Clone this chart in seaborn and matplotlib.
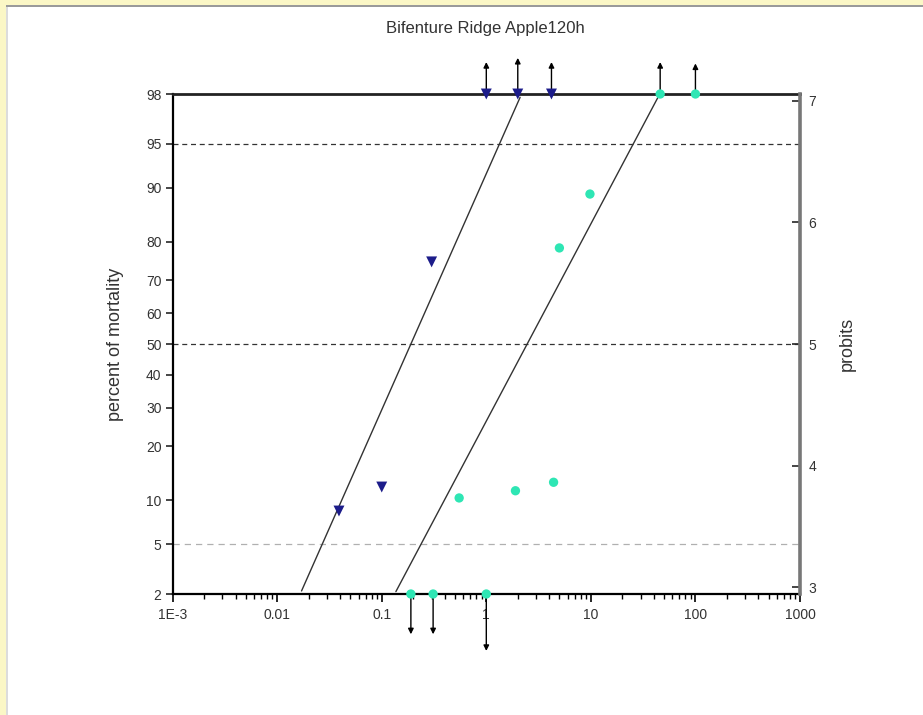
import numpy as np
import pandas as pd
import matplotlib
matplotlib.use("Agg")
import matplotlib.pyplot as plt
from matplotlib.patches import Rectangle
import seaborn as sns
from statistics import NormalDist

# Bioassay observations: concentration vs. percent mortality
blue_conc = [0.039, 0.1, 0.3, 1.0, 2.0, 4.2]
blue_mort = [8.5, 12.0, 75.0, 98.0, 98.0, 98.0]
cyan_conc = [0.19, 0.31, 1.0, 0.55, 1.9, 4.4, 5.0, 9.8, 46.0, 100.0]
cyan_mort = [2.0, 2.0, 2.0, 10.3, 11.4, 12.8, 78.5, 89.1, 98.0, 98.0]

# Fitted probit regressions (LC50 and slope)
blue_lc50, blue_slope = 0.19, 1.94
cyan_lc50, cyan_slope = 2.46, 1.62

pct_ticks = [2, 5, 10, 20, 30, 40, 50, 60, 70, 80, 90, 95, 98]
probit_ticks = [3, 4, 5, 6, 7]
x_ticks = [1e-3, 1e-2, 1e-1, 1, 10, 100, 1000]
x_labels = ["1E-3", "0.01", "0.1", "1", "10", "100", "1000"]
ref_lines = [95, 50, 5]

nd = NormalDist()


def probit(pct):
    return 5 + nd.inv_cdf(pct / 100.0)


sns.set_style("ticks")
plt.rcParams["font.family"] = ["Liberation Sans", "DejaVu Sans"]

fig = plt.figure(figsize=(9.23, 7.15), dpi=100)
fig.patch.set_facecolor("white")
# screenshot-style frame
fig.patches.append(Rectangle((0, 1 - 5 / 715), 1, 5 / 715, transform=fig.transFigure,
                             facecolor="#fbf7c6", edgecolor="none", zorder=0))
fig.patches.append(Rectangle((0, 1 - 7 / 715), 1, 2 / 715, transform=fig.transFigure,
                             facecolor="#9a9a9a", edgecolor="none", zorder=0))
fig.patches.append(Rectangle((0, 0), 6 / 923, 1, transform=fig.transFigure,
                             facecolor="#fbf7c6", edgecolor="none", zorder=0))
fig.patches.append(Rectangle((6 / 923, 0), 2 / 923, 1 - 7 / 715, transform=fig.transFigure,
                             facecolor="#dcdcdc", edgecolor="none", zorder=0))

ax = fig.add_axes([172.6 / 923, 1 - 594 / 715, (800 - 172.6) / 923, 500 / 715])
ax.set_xscale("log")
ylo, yhi = probit(2), probit(98)

blue = pd.DataFrame({"conc": blue_conc, "probit": [probit(p) for p in blue_mort]})
cyan = pd.DataFrame({"conc": cyan_conc, "probit": [probit(p) for p in cyan_mort]})

xs = np.logspace(-3, 3, 400)
for lc50, slope in [(blue_lc50, blue_slope), (cyan_lc50, cyan_slope)]:
    line = pd.DataFrame({"conc": xs, "probit": 5 + slope * (np.log10(xs) - np.log10(lc50))})
    line = line[(line["probit"] >= ylo) & (line["probit"] <= yhi)]
    sns.lineplot(data=line, x="conc", y="probit", ax=ax, color="#333333", lw=1.0, zorder=2)

for r in ref_lines:
    if r == 5:
        ax.axhline(probit(r), color="#b0b0b0", lw=0.9, ls=(0, (5, 4)), zorder=1)
    else:
        ax.axhline(probit(r), color="#333333", lw=0.9, ls=(0, (4, 3)), zorder=1)

sns.scatterplot(data=cyan, x="conc", y="probit", ax=ax, color="#2ee6b4", marker="o",
                s=45, edgecolor="none", zorder=4, clip_on=False)
sns.scatterplot(data=blue, x="conc", y="probit", ax=ax, color="#1c1c8a", marker="v",
                s=62, edgecolor="none", zorder=5, clip_on=False)

# arrows flag responses at the limits of the scale
up_len = {1.0: 23, 2.0: 26, 4.2: 23, 46.0: 23, 100.0: 22}
down_len = {0.19: 29, 0.31: 29, 1.0: 41}
for df in (blue, cyan):
    for c, p in zip(df["conc"], df["probit"]):
        if abs(p - yhi) < 1e-6:
            L = up_len.get(c, 23)
            ax.annotate("", xy=(c, p), xytext=(0, L), textcoords="offset points",
                        xycoords="data", annotation_clip=False,
                        arrowprops=dict(arrowstyle="<|-", color="black", lw=1.0,
                                        mutation_scale=8, shrinkA=0, shrinkB=0))
        elif abs(p - ylo) < 1e-6:
            L = down_len.get(c, 29)
            ax.annotate("", xy=(c, p), xytext=(0, -L), textcoords="offset points",
                        xycoords="data", annotation_clip=False,
                        arrowprops=dict(arrowstyle="<|-", color="black", lw=1.0,
                                        mutation_scale=8, shrinkA=0, shrinkB=0))

ax.set_xlim(1e-3, 1e3)
ax.set_ylim(ylo, yhi)
ax.set_xticks(x_ticks)
ax.set_xticklabels(x_labels)
ax.set_yticks([probit(p) for p in pct_ticks])
ax.set_yticklabels([str(p) for p in pct_ticks])
ax.tick_params(axis="x", which="major", direction="out", length=6, width=1.2,
               labelsize=10, colors="black", labelcolor="#333333", pad=4)
ax.tick_params(axis="x", which="minor", direction="out", length=3.5, width=1.0, colors="black")
ax.tick_params(axis="y", direction="out", length=5, width=1.2, labelsize=10,
               labelcolor="#333333", pad=3)
ax.set_xlabel("")
ax.set_ylabel("percent of mortality", fontsize=13, color="#333333", labelpad=16)
for s in ("left", "bottom"):
    ax.spines[s].set_linewidth(1.6)
    ax.spines[s].set_color("black")
ax.spines["top"].set_visible(True)
ax.spines["top"].set_linewidth(2.0)
ax.spines["top"].set_color("#222222")
ax.spines["right"].set_visible(False)

ax2 = ax.twinx()
ax2.set_ylim(ylo, yhi)
ax2.set_yticks(probit_ticks)
ax2.set_yticklabels([str(p) for p in probit_ticks])
ax2.tick_params(axis="y", direction="in", length=6, width=1.2, labelsize=10,
                labelcolor="#333333", pad=6)
ax2.spines["right"].set_visible(True)
ax2.spines["right"].set_linewidth(2.6)
ax2.spines["right"].set_color("#777777")
for s in ("left", "top", "bottom"):
    ax2.spines[s].set_visible(False)
ax2.set_ylabel("probits", fontsize=13, color="#333333", labelpad=16)

fig.text(485 / 923, 1 - 28 / 715, "Bifenture Ridge Apple120h", ha="center", va="center",
         fontsize=12, color="#333333")

fig.savefig("out.png", dpi=100)
